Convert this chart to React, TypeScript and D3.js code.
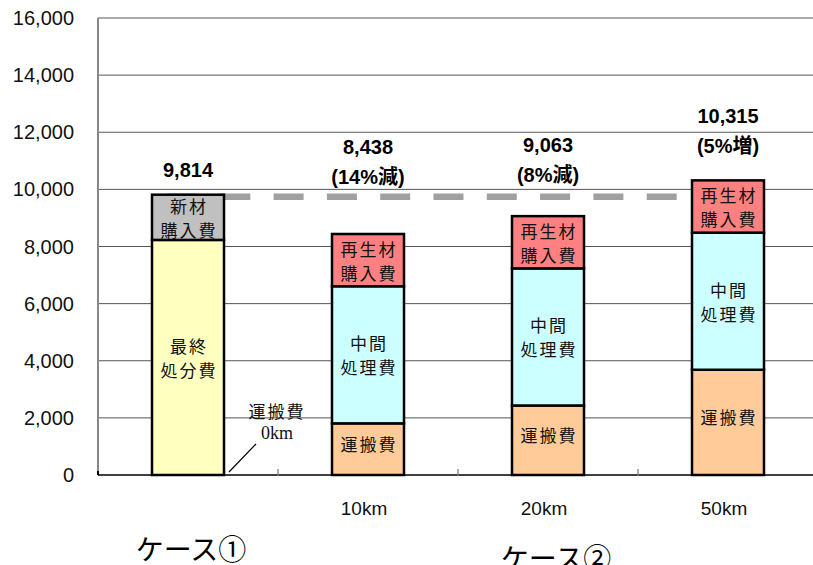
import React from "react";
import * as d3 from "d3";

// Cost comparison: case 1 (new material, landfill) vs case 2 (recycled, by haul distance)
const categories = ["case1", "10km", "20km", "50km"];
const tickLabels = ["", "10km", "20km", "50km"];

// Stacked components, bottom to top
const transport = [0, 1808, 2433, 3685]; // 運搬費
const finalDisposal = [8230, 0, 0, 0]; // 最終処分費
const intermediate = [0, 4800, 4800, 4800]; // 中間処理費
const newMaterial = [1584, 0, 0, 0]; // 新材購入費
const recycledMaterial = [0, 1830, 1830, 1830]; // 再生材購入費

const totalLabels = ["9,814", "8,438", "9,063", "10,315"];
const changeLabels = ["", "(14%減)", "(8%減)", "(5%増)"];
// value level at which each total label sits
const totalLabelLevels = [10680, 11500, 11555, 12570];

const yTicks = [0, 2000, 4000, 6000, 8000, 10000, 12000, 14000, 16000];
const baselineTotal = 9814;

const series = [
  { key: "transport", values: transport, color: "#ffcc99", lines: ["運搬費"] },
  { key: "final", values: finalDisposal, color: "#ffffc0", lines: ["最終", "処分費"] },
  { key: "intermediate", values: intermediate, color: "#ccffff", lines: ["中間", "処理費"] },
  { key: "newMat", values: newMaterial, color: "#c0c0c0", lines: ["新材", "購入費"] },
  { key: "recycled", values: recycledMaterial, color: "#ff8080", lines: ["再生材", "購入費"] },
];

const W = 813;
const H = 565;
const left = 98;
const right = 818;
const top = 18;
const bottom = 475;

const latin = "'Liberation Sans', Arial, 'Noto Sans CJK JP', sans-serif";
const cjk = "'Noto Sans CJK JP', 'Liberation Sans', sans-serif";

export default function App() {
  const x = d3
    .scaleBand<string>()
    .domain(categories)
    .range([left, right])
    .paddingInner(0.6)
    .paddingOuter(0.3);
  const y = d3.scaleLinear().domain([0, 16000]).range([bottom, top]);
  const bw = x.bandwidth();
  const step = x.step();

  const stackData = categories.map((c, i) => {
    const row: Record<string, number | string> = { cat: c };
    series.forEach((s) => (row[s.key] = s.values[i]));
    return row;
  });
  const stacked = d3.stack<any>().keys(series.map((s) => s.key))(stackData);

  const catCenter = (c: string) => (x(c) as number) + bw / 2;
  const boundaries = categories.slice(1).map((c) => (x(c) as number) - (step - bw) / 2);

  const firstCenter = catCenter(categories[0]);
  const lastCenter = catCenter(categories[categories.length - 1]);
  const annX = boundaries[0];

  return (
    <svg
      width={W}
      height={H}
      style={{ position: "absolute", left: 0, top: 0, background: "#fff" }}
    >
      {/* gridlines */}
      {yTicks.slice(1).map((t) => (
        <line key={t} x1={left} x2={W} y1={y(t)} y2={y(t)} stroke="#555" strokeWidth={1} />
      ))}
      {/* y tick labels */}
      {yTicks.map((t) => (
        <text
          key={t}
          x={74}
          y={y(t)}
          textAnchor="end"
          dominantBaseline="central"
          fontFamily={latin}
          fontSize={20}
          fill="#111"
        >
          {d3.format(",")(t)}
        </text>
      ))}
      {/* reference level of case 1 total */}
      <line
        x1={firstCenter - 21}
        x2={lastCenter}
        y1={y(baselineTotal) + 2}
        y2={y(baselineTotal) + 2}
        stroke="#a0a0a0"
        strokeWidth={6.5}
        strokeDasharray="30 23.3"
      />
      {/* axes */}
      <line x1={left} x2={left} y1={top} y2={bottom} stroke="#888" strokeWidth={2} />
      <line x1={left} x2={W} y1={bottom} y2={bottom} stroke="#000" strokeWidth={1.5} />
      <line x1={left} x2={left} y1={bottom - 4} y2={bottom} stroke="#000" strokeWidth={2} />
      {boundaries.map((b, i) => (
        <line key={i} x1={b} x2={b} y1={bottom - 6} y2={bottom + 1} stroke="#777" strokeWidth={1.2} />
      ))}
      {/* stacked bars */}
      {stacked.map((layer, li) =>
        layer.map((d, i) => {
          const v = d[1] - d[0];
          if (v <= 0) return null;
          const c = categories[i];
          const y0 = y(d[1]);
          const h = y(d[0]) - y(d[1]);
          const s = series[li];
          const cy = y0 + h / 2;
          const n = s.lines.length;
          return (
            <g key={`${li}-${i}`}>
              <rect
                x={x(c)}
                y={y0}
                width={bw}
                height={h}
                fill={s.color}
                stroke="#000"
                strokeWidth={2.5}
              />
              {s.lines.map((ln, k) => (
                <text
                  key={k}
                  x={catCenter(c) + 1}
                  y={cy + (k - (n - 1) / 2) * 24 - (n === 1 ? 6 : 0)}
                  textAnchor="middle"
                  dominantBaseline="central"
                  fontFamily={cjk}
                  fontSize={17}
                  letterSpacing={2}
                  fill="#111"
                >
                  {ln}
                </text>
              ))}
            </g>
          );
        })
      )}
      {/* total labels */}
      {categories.map((c, i) => (
        <g key={c} fontFamily={latin} fontWeight="bold" fontSize={20} fill="#000">
          <text x={catCenter(c)} y={y(totalLabelLevels[i])} textAnchor="middle" dominantBaseline="central">
            {totalLabels[i]}
          </text>
          {changeLabels[i] && (
            <text
              x={catCenter(c)}
              y={y(totalLabelLevels[i]) + 30}
              textAnchor="middle"
              dominantBaseline="central"
            >
              {changeLabels[i]}
            </text>
          )}
        </g>
      ))}
      {/* zero-distance transport note for case 1 */}
      <text
        x={annX - 1}
        y={410}
        textAnchor="middle"
        dominantBaseline="central"
        fontFamily={cjk}
        fontSize={17}
        letterSpacing={2}
        fill="#111"
      >
        運搬費
      </text>
      <text
        x={annX - 1}
        y={433}
        textAnchor="middle"
        dominantBaseline="central"
        fontFamily="'Liberation Serif', 'DejaVu Serif', serif"
        fontSize={18}
        fill="#111"
      >
        0km
      </text>
      <line
        x1={(x(categories[0]) as number) + bw + 5}
        y1={y(transport[0]) - 3}
        x2={annX - 22}
        y2={444}
        stroke="#000"
        strokeWidth={1.2}
      />
      {/* category labels */}
      {categories.map((c, i) => (
        <text
          key={c}
          x={catCenter(c) - 4}
          y={508}
          textAnchor="middle"
          dominantBaseline="central"
          fontFamily={latin}
          fontSize={19}
          fill="#111"
        >
          {tickLabels[i]}
        </text>
      ))}
      {/* case group labels */}
      <text
        x={firstCenter + 3}
        y={548}
        textAnchor="middle"
        dominantBaseline="central"
        fontFamily={cjk}
        fontSize={28}
        fill="#000"
      >
        ケース①
      </text>
      <text
        x={(catCenter(categories[1]) + lastCenter) / 2 + 8}
        y={557}
        textAnchor="middle"
        dominantBaseline="central"
        fontFamily={cjk}
        fontSize={28}
        fill="#000"
      >
        ケース②
      </text>
    </svg>
  );
}
